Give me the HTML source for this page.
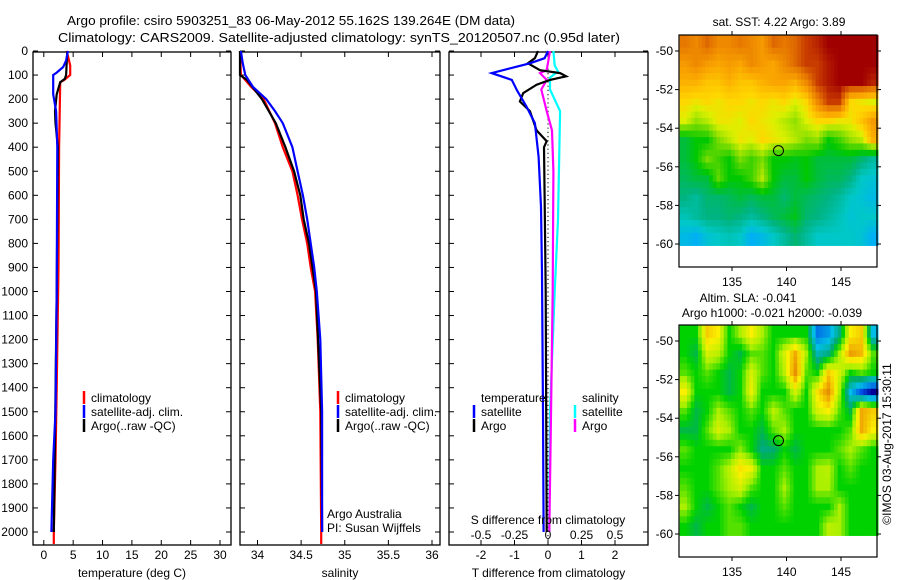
<!DOCTYPE html>
<html><head><meta charset="utf-8"><style>
html,body{margin:0;padding:0;background:#fff;}
svg{display:block;font-family:"Liberation Sans",Arial,sans-serif;}
</style></head><body>
<svg id="fig" width="900" height="580" viewBox="0 0 900 580" xmlns="http://www.w3.org/2000/svg">
<g font-size="13" fill="#000">
<text x="67" y="25" textLength="448" lengthAdjust="spacingAndGlyphs">Argo profile: csiro 5903251_83 06-May-2012 55.162S 139.264E (DM data)</text>
<text x="58" y="42" textLength="562" lengthAdjust="spacingAndGlyphs">Climatology: CARS2009. Satellite-adjusted climatology: synTS_20120507.nc (0.95d later)</text>
</g>
<g id="layer"></g>
</svg>
<script>
// ---------- data ----------
const depthTicks=[0,100,200,300,400,500,600,700,800,900,1000,1100,1200,1300,1400,1500,1600,1700,1800,1900,2000];
const tempTicks=[0,5,10,15,20,25,30];
const salTicks=[34,34.5,35,35.5,36];
const tdiffTicks=[-2,-1,0,1,2];
const sdiffTicks=[-0.5,-0.25,0,0.25,0.5];
const lonTicks=[135,140,145];
const latTicks=[-50,-52,-54,-56,-58,-60];

const tClimDepth=[0,60,100,120,130,400,900,1400,1700,2000,2050];
const tClimVal=[3.9,4.5,4.5,3.5,2.8,2.6,2.5,2.2,2.0,1.7,1.7];
const tSatDepth=[0,40,66,90,100,180,250,400,1000,1500,1700,2000];
const tSatVal=[4.1,3.8,3.3,2.2,1.6,1.6,2.1,2.3,2.2,2.0,1.6,1.3];
const tArgoDepth=[0,100,115,130,180,250,300,400,1000,1600,2000];
const tArgoVal=[4.0,3.8,3.6,2.8,2.2,1.9,2.0,2.4,2.2,1.9,1.7];

const sClimDepth=[0,100,150,200,300,400,500,600,700,800,900,1000,1200,1500,2000,2050];
const sClimVal=[33.80,33.81,33.93,34.07,34.20,34.29,34.40,34.46,34.51,34.57,34.61,34.66,34.69,34.72,34.73,34.73];
const sSatDepth=[0,50,100,150,200,250,300,400,500,600,700,800,900,1000,1200,1500,2000];
const sSatVal=[33.81,33.83,33.86,33.95,34.10,34.20,34.29,34.40,34.46,34.52,34.57,34.61,34.65,34.68,34.72,34.74,34.74];
const sArgoDepth=[0,100,120,200,300,400,500,600,700,800,900,1000,1500,2000];
const sArgoVal=[33.80,33.80,33.88,34.05,34.21,34.32,34.42,34.49,34.53,34.59,34.63,34.67,34.73,34.74];

const dtSatDepth=[0,30,51,92,120,162,232,300,440,648,925,1500,2000];
const dtSatVal=[0,-0.1,-0.54,-1.68,-1.08,-0.93,-0.64,-0.39,-0.28,-0.21,-0.18,-0.15,-0.13];
const dtArgoDepth=[0,30,51,80,92,105,120,140,175,210,250,330,375,400,600,1000,2000];
const dtArgoVal=[-0.3,-0.39,-0.6,-0.24,0.36,0.54,0.06,-0.34,-0.74,-0.84,-0.54,-0.34,-0.04,-0.12,-0.1,-0.07,-0.04];
const dsSatDepth=[0,60,85,110,160,250,400,700,1000,1500,2000];
const dsSatVal=[0.04,0.05,0.075,0.015,0.015,0.09,0.085,0.075,0.05,0.015,0.01];
const dsArgoDepth=[0,80,92,120,160,250,330,500,1000,1600,2000];
const dsArgoVal=[0.015,-0.01,-0.06,-0.01,-0.05,-0.01,0.03,0.04,0.035,0.02,0.01];

const sstGrid=[
[0.88,0.85,0.9,0.85,0.85,0.88,0.85,0.82,0.9,0.88,0.9,0.95,0.97,1,1,1,1,1],
[0.82,0.85,0.82,0.8,0.82,0.8,0.85,0.82,0.8,0.85,0.9,0.95,0.95,0.98,1,1,1,1],
[0.78,0.78,0.75,0.75,0.78,0.75,0.75,0.78,0.8,0.8,0.78,0.85,0.95,0.98,1,1,1,0.97],
[0.72,0.7,0.72,0.7,0.72,0.72,0.7,0.72,0.7,0.72,0.68,0.72,0.85,0.95,0.95,0.72,0.7,0.68],
[0.68,0.62,0.65,0.7,0.7,0.68,0.72,0.7,0.68,0.65,0.62,0.68,0.72,0.72,0.7,0.7,0.75,0.82],
[0.45,0.5,0.5,0.6,0.65,0.7,0.68,0.72,0.7,0.68,0.65,0.6,0.62,0.5,0.55,0.62,0.65,0.78],
[0.45,0.5,0.6,0.55,0.5,0.6,0.55,0.6,0.5,0.5,0.48,0.5,0.45,0.45,0.45,0.45,0.4,0.35],
[0.42,0.45,0.45,0.58,0.5,0.5,0.55,0.65,0.5,0.45,0.45,0.5,0.45,0.42,0.42,0.38,0.3,0.28],
[0.38,0.35,0.4,0.4,0.42,0.45,0.42,0.45,0.45,0.4,0.45,0.42,0.4,0.38,0.35,0.3,0.28,0.25],
[0.32,0.35,0.38,0.38,0.4,0.38,0.35,0.38,0.42,0.45,0.48,0.4,0.38,0.35,0.32,0.28,0.3,0.3],
[0.25,0.22,0.28,0.3,0.32,0.3,0.22,0.25,0.3,0.35,0.4,0.35,0.3,0.3,0.3,0.3,0.28,0.22]];
const slaGrid=[
[0.5,0.5,0.75,0.7,0.5,0.6,0.7,0.6,0.5,0.5,0.5,0.5,0.2,0.25,0.4,0.7,0.75,0.3],
[0.5,0.45,0.65,0.62,0.5,0.45,0.55,0.55,0.5,0.65,0.8,0.6,0.35,0.4,0.6,0.82,0.78,0.55],
[0.55,0.5,0.55,0.5,0.45,0.5,0.65,0.55,0.5,0.62,0.85,0.55,0.5,0.75,0.65,0.5,0.55,0.5],
[0.7,0.5,0.5,0.5,0.45,0.5,0.68,0.5,0.5,0.5,0.65,0.5,0.72,0.85,0.6,0.3,0.15,0.05],
[0.55,0.45,0.5,0.6,0.55,0.5,0.55,0.5,0.62,0.55,0.5,0.5,0.65,0.7,0.55,0.45,0.8,0.75],
[0.45,0.45,0.55,0.65,0.6,0.5,0.5,0.45,0.55,0.6,0.5,0.5,0.5,0.5,0.5,0.55,0.8,0.7],
[0.55,0.5,0.5,0.5,0.5,0.58,0.5,0.4,0.42,0.5,0.45,0.5,0.5,0.5,0.55,0.6,0.55,0.5],
[0.5,0.5,0.5,0.55,0.62,0.72,0.68,0.5,0.5,0.55,0.5,0.5,0.6,0.62,0.5,0.55,0.5,0.5],
[0.55,0.5,0.5,0.55,0.6,0.65,0.55,0.5,0.5,0.6,0.5,0.5,0.6,0.6,0.5,0.5,0.5,0.5],
[0.6,0.5,0.45,0.5,0.55,0.5,0.45,0.5,0.5,0.55,0.5,0.5,0.5,0.5,0.6,0.5,0.5,0.5],
[0.5,0.45,0.5,0.5,0.55,0.55,0.5,0.5,0.5,0.5,0.5,0.5,0.5,0.62,0.6,0.5,0.5,0.5]];
const gridLonStart=130.2, gridLonEnd=148.4, gridLatTop=-49.17, gridLatBottom=-60.08;
const argoLon=139.264, argoLat=-55.162;

// ---------- helpers ----------
const NS='http://www.w3.org/2000/svg';
const layer=document.getElementById('layer');
function el(tag,attrs,parent){const e=document.createElementNS(NS,tag);for(const k in attrs)e.setAttribute(k,attrs[k]);(parent||layer).appendChild(e);return e;}
function txt(x,y,s,anchor,size,parent){const t=el('text',{x:x,y:y,'font-size':size||12,'text-anchor':anchor||'start',fill:'#000'},parent);t.textContent=s;return t;}
function lin(d0,d1,r0,r1){return v=>r0+(v-d0)*(r1-r0)/(d1-d0);}

const TOP=52,BOT=545;
const yD=lin(0,2000,51,532);

function panel(name,x0,x1,xScale,xt,xfmt,xlabel){
  const g=el('g',{});
  
  
  const r=el('rect',{x:x0,y:TOP,width:x1-x0,height:BOT-TOP,fill:'none',stroke:'#000','stroke-width':1.3},g);
  
  
  xt.forEach(v=>{const x=xScale(v);
    el('line',{x1:x,x2:x,y1:TOP,y2:TOP+5,stroke:'#000'},g);
    el('line',{x1:x,x2:x,y1:BOT,y2:BOT-5,stroke:'#000'},g);
    const t=txt(x,559,xfmt(v),'middle',12,g);
    
    
  });
  depthTicks.forEach(d=>{const y=yD(d);
    el('line',{x1:x0,x2:x0+5,y1:y,y2:y,stroke:'#000'},g);
    el('line',{x1:x1,x2:x1-5,y1:y,y2:y,stroke:'#000'},g);
  });
  const t=txt((x0+x1)/2,577,xlabel,'middle',12,g);
  
  
  return g;
}
function profile(g,depths,vals,xScale,color,name){
  const pts=depths.map((d,i)=>xScale(vals[i]).toFixed(1)+','+yD(d).toFixed(1)).join(' ');
  const p=el('polyline',{points:pts,fill:'none',stroke:color,'stroke-width':2.2},g);
  
  
}
function legendEntry(g,x,y,color,label,name){
  const l=el('line',{x1:x,x2:x,y1:y-11,y2:y+2,stroke:color,'stroke-width':2.5},g);
  
  
  const t=txt(x+7,y,label,'start',12,g);
  
  
}

const dg=el('g',{});


depthTicks.forEach(d=>{const t=txt(28,yD(d)+4,String(d),'end',12,dg);
  
  });

const xT=lin(0,30,43.8,220);
const g1=panel('temperature-panel',33,231,xT,tempTicks,v=>String(v),'temperature (deg C)');
profile(g1,tClimDepth,tClimVal,xT,'#f00','temp-climatology-line');
profile(g1,tArgoDepth,tArgoVal,xT,'#000','temp-argo-line');
profile(g1,tSatDepth,tSatVal,xT,'#00f','temp-satellite-line');
legendEntry(g1,84,402,'#f00','climatology','legend-climatology');
legendEntry(g1,84,416,'#00f','satellite-adj. clim.','legend-satellite');
legendEntry(g1,84,430,'#000','Argo(..raw -QC)','legend-argo');

const xS=lin(34,36,257.5,432);
const g2=panel('salinity-panel',240,440,xS,salTicks,v=>String(v),'salinity');
profile(g2,sClimDepth,sClimVal,xS,'#f00','sal-climatology-line');
profile(g2,sArgoDepth,sArgoVal,xS,'#000','sal-argo-line');
profile(g2,sSatDepth,sSatVal,xS,'#00f','sal-satellite-line');
legendEntry(g2,338,402,'#f00','climatology','legend-climatology');
legendEntry(g2,338,416,'#00f','satellite-adj. clim.','legend-satellite');
legendEntry(g2,338,430,'#000','Argo(..raw -QC)','legend-argo');
{const a=txt(327,518,'Argo Australia','start',12,g2);
 const b=txt(327,532,'PI: Susan Wijffels','start',12,g2);}

const xDT=lin(-2,2,481,615);
const xDS=lin(-0.5,0.5,481,615);
const g3=panel('difference-panel',449,648,xDT,tdiffTicks,v=>String(v),'T difference from climatology');
{const z=el('line',{x1:xDT(0),x2:xDT(0),y1:TOP,y2:BOT,stroke:'#000','stroke-dasharray':'1.2,3'},g3);
 }
profile(g3,dsSatDepth,dsSatVal,xDS,'#0ff','sdiff-satellite-line');
profile(g3,dsArgoDepth,dsArgoVal,xDS,'#f0f','sdiff-argo-line');
profile(g3,dtArgoDepth,dtArgoVal,xDT,'#000','tdiff-argo-line');
profile(g3,dtSatDepth,dtSatVal,xDT,'#00f','tdiff-satellite-line');
{const a=txt(481,402,'temperature','start',12,g3);
 const b=txt(582,402,'salinity','start',12,g3);}
legendEntry(g3,474,416,'#00f','satellite','legend-t-satellite');
legendEntry(g3,474,430,'#000','Argo','legend-t-argo');
legendEntry(g3,575,416,'#0ff','satellite','legend-s-satellite');
legendEntry(g3,575,430,'#f0f','Argo','legend-s-argo');
{const a=txt(548,524,'S difference from climatology','middle',12,g3);
 sdiffTicks.forEach(v=>{const t=txt(xDS(v),539,String(v),'middle',12,g3);});}

function sstColor(v){const stops=[[0.2,[0,170,255]],[0.3,[0,200,200]],[0.38,[0,180,130]],[0.45,[0,190,60]],[0.5,[0,200,0]],[0.6,[120,220,0]],[0.68,[220,240,0]],[0.72,[255,215,0]],[0.8,[250,165,0]],[0.88,[230,120,0]],[0.95,[200,60,0]],[1,[160,0,0]]];return interp(stops,v);}
function slaColor(v){const stops=[[0.05,[0,0,150]],[0.15,[0,80,230]],[0.3,[0,190,230]],[0.42,[0,170,110]],[0.5,[0,210,0]],[0.6,[170,240,0]],[0.7,[250,240,0]],[0.8,[240,170,0]],[0.9,[220,120,0]]];return interp(stops,v);}
function interp(stops,v){if(v<=stops[0][0])return 'rgb('+stops[0][1]+')';for(let i=1;i<stops.length;i++){if(v<=stops[i][0]){const f=(v-stops[i-1][0])/(stops[i][0]-stops[i-1][0]);const a=stops[i-1][1],b=stops[i][1];return 'rgb('+a.map((c,k)=>Math.round(c+(b[k]-c)*f)).join(',')+')';}}return 'rgb('+stops[stops.length-1][1]+')';}
function sample(grid,r,c){
  const rows=grid.length,cols=grid[0].length;
  r=Math.max(0,Math.min(rows-1,r));c=Math.max(0,Math.min(cols-1,c));
  const r0=Math.floor(r),c0=Math.floor(c),r1=Math.min(rows-1,r0+1),c1=Math.min(cols-1,c0+1);
  const fr=r-r0,fc=c-c0;
  return (grid[r0][c0]*(1-fc)+grid[r0][c1]*fc)*(1-fr)+(grid[r1][c0]*(1-fc)+grid[r1][c1]*fc)*fr;
}

function map(name,top,grid,colorFn,titles){
  const g=el('g',{});
  
  
  const L=679,R=877,B=top+232;
  const xL=lin(135,145,732,841);
  const yL=lin(-50,-60,top+16,top+209);
  const rows=grid.length,cols=grid[0].length;
  const SUB=3;
  const dLon=(gridLonEnd-gridLonStart)/(cols*SUB),dLat=(gridLatTop-gridLatBottom)/(rows*SUB);
  for(let i=0;i<rows*SUB;i++){for(let j=0;j<cols*SUB;j++){
    const v=sample(grid,(i+0.5)/SUB-0.5,(j+0.5)/SUB-0.5);
    const x=xL(gridLonStart+j*dLon),y=yL(gridLatTop-i*dLat);
    const c=el('rect',{x:x.toFixed(2),y:y.toFixed(2),width:(xL(gridLonStart+(j+1)*dLon)-x+0.4).toFixed(2),height:(yL(gridLatTop-(i+1)*dLat)-y+0.4).toFixed(2),fill:colorFn(v)},g);
    
    
  }}
  const f=el('rect',{x:L,y:top,width:R-L,height:B-top,fill:'none',stroke:'#000','stroke-width':1.2},g);
  
  
  lonTicks.forEach(v=>{const x=xL(v);el('line',{x1:x,x2:x,y1:top,y2:top-4,stroke:'#000'},g);el('line',{x1:x,x2:x,y1:B,y2:B+4,stroke:'#000'},g);
    const t=txt(x,B+19,String(v),'middle',12,g);});
  latTicks.forEach(v=>{const y=yL(v);el('line',{x1:L,x2:L-4,y1:y,y2:y,stroke:'#000'},g);el('line',{x1:R,x2:R+4,y1:y,y2:y,stroke:'#000'},g);
    const t=txt(673,y+4,String(v),'end',12,g);});
  const m=el('circle',{cx:xL(argoLon),cy:yL(argoLat),r:5,fill:'none',stroke:'#000','stroke-width':1},g);
  
  
  titles.forEach(s=>{const t=txt(s[1],s[2],s[0],'middle',12,g);});
}
map('sst-map',35,sstGrid,sstColor,[['sat. SST: 4.22 Argo: 3.89',779,26]]);
map('sla-map',325,slaGrid,slaColor,[['Altim. SLA: -0.041',748,302],['Argo h1000: -0.021 h2000: -0.039',772,317]]);
{const t=txt(0,0,'©IMOS 03-Aug-2017 15:30:11','middle',12);
 t.setAttribute('transform','translate(891,444) rotate(-90)');
 
 }
</script>
</body></html>
